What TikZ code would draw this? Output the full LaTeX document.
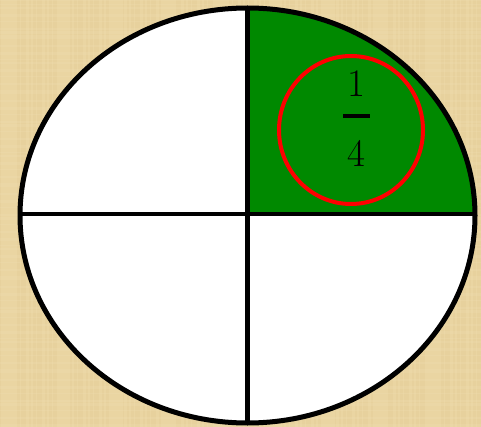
\documentclass[tikz,border=0pt]{standalone}
\usepackage{tikz}
\definecolor{parch}{RGB}{234,213,162}
\definecolor{parchdark}{RGB}{220,192,135}
\definecolor{parchlight}{RGB}{242,226,185}
\definecolor{qgreen}{RGB}{0,137,0}
\definecolor{qred}{RGB}{255,0,0}
\tikzset{
  outline/.style={draw=black, line width=5pt},
  divider/.style={draw=black, line width=4.5pt},
  ring/.style={draw=qred, line width=4pt},
  digit/.style={font=\fontsize{39}{41}\selectfont, inner sep=0pt}
}
\begin{document}
\begin{tikzpicture}[x=1pt,y=-1pt]
  \useasboundingbox (0,0) rectangle (481,427);
  \fill[parch] (0,0) rectangle (481,427);
  % faint texture streaks
  \foreach \i in {0,...,90} {
    \pgfmathsetmacro{\xx}{mod(\i*53,481)}
    \pgfmathsetmacro{\ww}{1+mod(\i*7,4)}
    \fill[parchdark, opacity=0.18] (\xx,0) rectangle (\xx+\ww,427);
  }
  \foreach \i in {0,...,70} {
    \pgfmathsetmacro{\yy}{mod(\i*31,427)}
    \pgfmathsetmacro{\hh}{1+mod(\i*5,3)}
    \fill[parchlight, opacity=0.2] (0,\yy) rectangle (481,\yy+\hh);
  }
  % disc
  \fill[white] (247.5,215.5) ellipse [x radius=227.5, y radius=207.5];
  \begin{scope}
    \clip (247.5,215.5) rectangle (481,0);
    \fill[qgreen] (247.5,215.5) ellipse [x radius=227.5, y radius=207.5];
  \end{scope}
  \draw[divider] (247.5,8) -- (247.5,423);
  \draw[divider] (20,214) -- (475,214);
  \draw[outline] (247.5,215.5) ellipse [x radius=227.5, y radius=207.5];
  % fraction
  \node[digit] (num) at (356,84) {1};
  \fill[black] (342.5,114.5) rectangle (369.5,118.5);
  \node[digit] (den) at (356,153) {4};
  % red ring
  \draw[ring] (351,130) ellipse [x radius=72, y radius=74];
\end{tikzpicture}
\end{document}
